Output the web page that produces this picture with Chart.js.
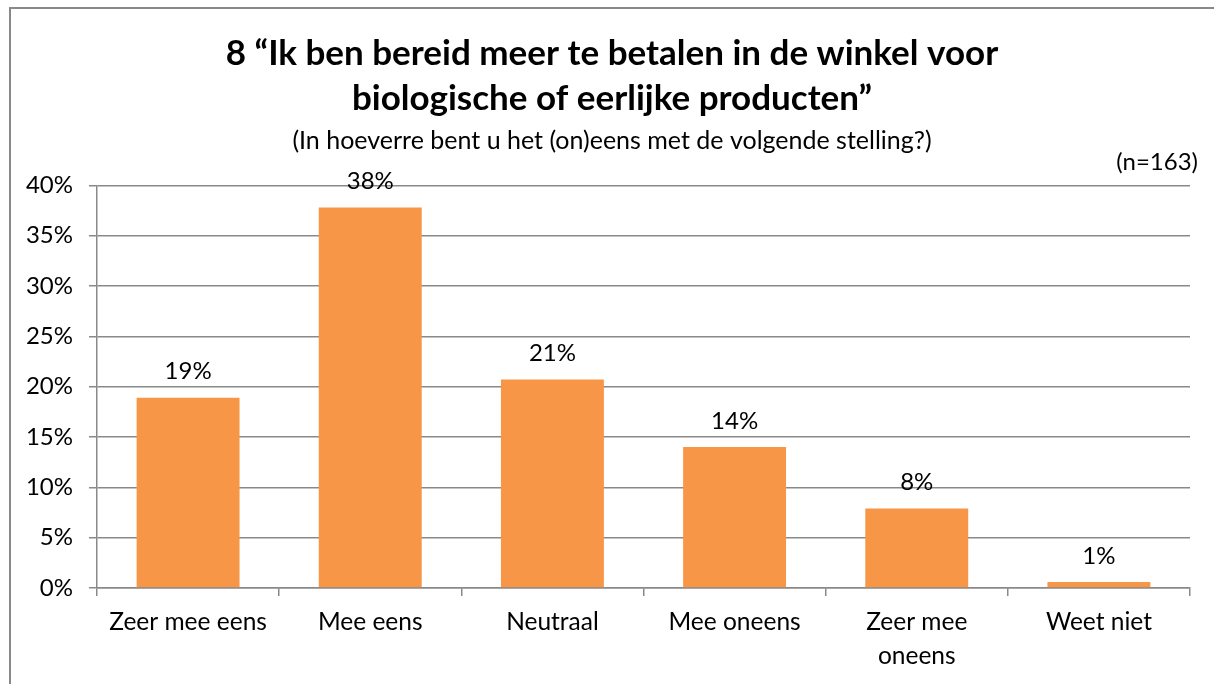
<!DOCTYPE html>
<html>
<head>
<meta charset="utf-8">
<script src="https://cdn.jsdelivr.net/npm/chart.js@4"></script>
<style>
  html, body { margin: 0; padding: 0; background: #fff; }
  #frame { position: absolute; left: 9px; top: 7px; width: 1215px; height: 700px; border: 2px solid #898989; box-sizing: border-box; }
  #wrap { position: absolute; left: 0; top: 0; width: 1214px; height: 684px; }
</style>
</head>
<body>
<div id="frame"></div>
<div id="wrap"><canvas id="chart"></canvas></div>
<script>
const categories = ['Zeer mee eens', 'Mee eens', 'Neutraal', 'Mee oneens', ['Zeer mee', 'oneens'], 'Weet niet'];
const percentages = [18.9, 37.8, 20.7, 14.0, 7.9, 0.6];
const valueLabels = ['19%', '38%', '21%', '14%', '8%', '1%'];
const yTicks = [0, 5, 10, 15, 20, 25, 30, 35, 40];

const FONT = 'Lato, "Liberation Sans", sans-serif';

// percentages above the bars + the (n=163) note
const labelPlugin = {
  id: 'labels',
  afterLayout(chart) {
    // y tick labels stick out left of the padded box, don't clip them
    chart.scales.y.left = 0;
  },
  afterDatasetsDraw(chart) {
    const ctx = chart.ctx;
    const meta = chart.getDatasetMeta(0);
    ctx.save();
    ctx.font = '24px ' + FONT;
    ctx.fillStyle = '#000';
    ctx.textAlign = 'center';
    ctx.textBaseline = 'middle';
    meta.data.forEach((bar, i) => {
      ctx.fillText(valueLabels[i], bar.x, bar.y - 26);
    });
    ctx.textAlign = 'right';
    ctx.fillText('(n=163)', chart.chartArea.right + 8, chart.chartArea.top - 23);
    ctx.restore();
  }
};

new Chart(document.getElementById('chart'), {
  type: 'bar',
  data: {
    labels: categories,
    datasets: [{
      data: percentages,
      backgroundColor: '#F79646',
      categoryPercentage: 1,
      barPercentage: 0.565
    }]
  },
  options: {
    responsive: true,
    maintainAspectRatio: false,
    animation: false,
    layout: { padding: { left: 34, right: 24, top: 0, bottom: 0 } },
    plugins: {
      legend: { display: false },
      tooltip: { enabled: false },
      title: {
        display: true,
        text: ['8 “Ik ben bereid meer te betalen in de winkel voor', 'biologische of eerlijke producten”'],
        color: '#000',
        font: { family: FONT, size: 35, weight: 'bold', lineHeight: 1.29 },
        padding: { top: 31, bottom: 0 }
      },
      subtitle: {
        display: true,
        text: '(In hoeverre bent u het (on)eens met de volgende stelling?)',
        color: '#000',
        font: { family: FONT, size: 25, lineHeight: 1.2 },
        padding: { top: 5, bottom: 29 }
      }
    },
    scales: {
      y: {
        min: 0,
        max: 40,
        afterBuildTicks: axis => { axis.ticks = yTicks.map(v => ({ value: v })); },
        afterFit: axis => { axis.width = 63; },
        ticks: {
          color: '#000',
          font: { family: FONT, size: 24 },
          padding: 16,
          callback: v => v + '%'
        },
        grid: { color: '#898989', lineWidth: 1.5, tickLength: 8 },
        border: { color: '#898989', width: 1.5 }
      },
      x: {
        afterFit: axis => { axis.height = 96; },
        ticks: {
          color: '#000',
          font: { family: FONT, size: 24.5, lineHeight: 1.35 },
          padding: 10,
          maxRotation: 0,
          autoSkip: false
        },
        grid: { offset: true, drawOnChartArea: false, drawTicks: true, tickLength: 8, color: '#898989', lineWidth: 1.5 },
        border: { color: '#898989', width: 1.5 }
      }
    }
  },
  plugins: [labelPlugin]
});
</script>
</body>
</html>
